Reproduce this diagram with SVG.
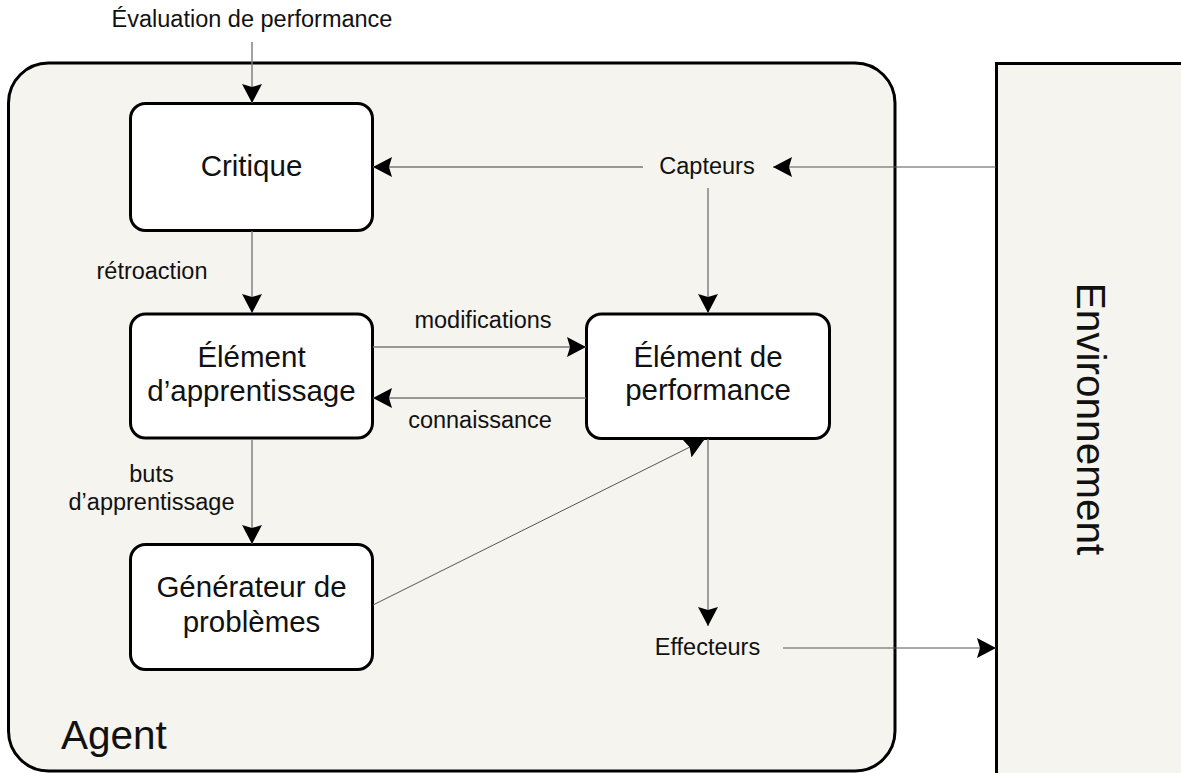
<svg xmlns="http://www.w3.org/2000/svg" width="1181" height="773" viewBox="0 0 1181 773">
  <style>
    .frame { fill: #f5f4ee; stroke: #000; stroke-width: 3; }
    .box { fill: #fff; stroke: #000; stroke-width: 3; }
    .wire { fill: none; stroke: #7a7a7a; stroke-width: 1.4; }
    .thin { fill: none; stroke: #555; stroke-width: 1; }
    text { font-family: "Liberation Sans", Arial, sans-serif; fill: #111; }
    .lbl { font-size: 23.5px; text-anchor: middle; }
    .nodetxt { font-size: 29.5px; text-anchor: middle; }
  </style>
  <defs>
    <marker id="head" viewBox="0 0 19 20" refX="19" refY="10" markerWidth="19" markerHeight="20" markerUnits="userSpaceOnUse" orient="auto">
      <path d="M0,0 L19,10 L0,20 L3,10 Z" fill="#000"/>
    </marker>
  </defs>

  <rect width="1181" height="773" fill="#fff"/>

  <!-- agent frame -->
  <g id="agent">
    <rect class="frame" x="8.5" y="63" width="886.5" height="708" rx="40" ry="40"/>
    <text x="61" y="749" style="font-size:40.5px">Agent</text>
  </g>

  <!-- environment frame, running off the page -->
  <g id="environment">
    <rect class="frame" x="996.5" y="63.5" width="200" height="730"/>
    <text class="lbl" transform="translate(1077,419) rotate(90)" style="font-size:40.5px">Environnement</text>
  </g>

  <g id="critique">
    <rect class="box" x="130.5" y="103.5" width="242" height="127" rx="15" ry="15"/>
    <text class="nodetxt" x="251.5" y="176">Critique</text>
  </g>

  <g id="element-apprentissage">
    <rect class="box" x="130.5" y="314" width="242" height="124" rx="15" ry="15"/>
    <text class="nodetxt" x="251.5" y="367">Élément</text>
    <text class="nodetxt" x="251.5" y="401">d’apprentissage</text>
  </g>

  <g id="generateur">
    <rect class="box" x="130.5" y="544.5" width="242" height="125" rx="15" ry="15"/>
    <text class="nodetxt" x="251.5" y="597">Générateur de</text>
    <text class="nodetxt" x="251.5" y="632">problèmes</text>
  </g>

  <g id="element-performance">
    <rect class="box" x="586.5" y="314" width="243" height="124.5" rx="15" ry="15"/>
    <text class="nodetxt" x="708" y="367">Élément de</text>
    <text class="nodetxt" x="708" y="400">performance</text>
  </g>

  <g id="capteurs">
    <text class="lbl" x="707" y="174">Capteurs</text>
  </g>

  <g id="effecteurs">
    <text class="lbl" x="707.5" y="655">Effecteurs</text>
  </g>

  <g id="connectors">
    <line class="wire" x1="252" y1="42" x2="252" y2="103" marker-end="url(#head)"/>
    <line class="wire" x1="643" y1="167" x2="373" y2="167" marker-end="url(#head)"/>
    <line class="thin" x1="996" y1="167" x2="773" y2="167" marker-end="url(#head)"/>
    <line class="wire" x1="708" y1="188" x2="708" y2="313" marker-end="url(#head)"/>
    <line class="wire" x1="252" y1="231" x2="252" y2="313" marker-end="url(#head)"/>
    <line class="wire" x1="373" y1="347" x2="586" y2="347" marker-end="url(#head)"/>
    <line class="wire" x1="586" y1="398" x2="373" y2="398" marker-end="url(#head)"/>
    <line class="wire" x1="252" y1="439" x2="252" y2="544" marker-end="url(#head)"/>
    <line class="thin" x1="373" y1="605" x2="704" y2="440" marker-end="url(#head)"/>
    <line class="wire" x1="708" y1="439" x2="708" y2="626" marker-end="url(#head)"/>
    <line class="thin" x1="783" y1="648" x2="996" y2="648" marker-end="url(#head)"/>
  </g>

  <g id="labels">
    <text class="lbl" x="252" y="27">Évaluation de performance</text>
    <text class="lbl" x="152" y="279">rétroaction</text>
    <text class="lbl" x="483" y="328">modifications</text>
    <text class="lbl" x="480" y="428">connaissance</text>
    <text class="lbl" x="151.5" y="482">buts</text>
    <text class="lbl" x="151.5" y="510">d’apprentissage</text>
  </g>
</svg>
